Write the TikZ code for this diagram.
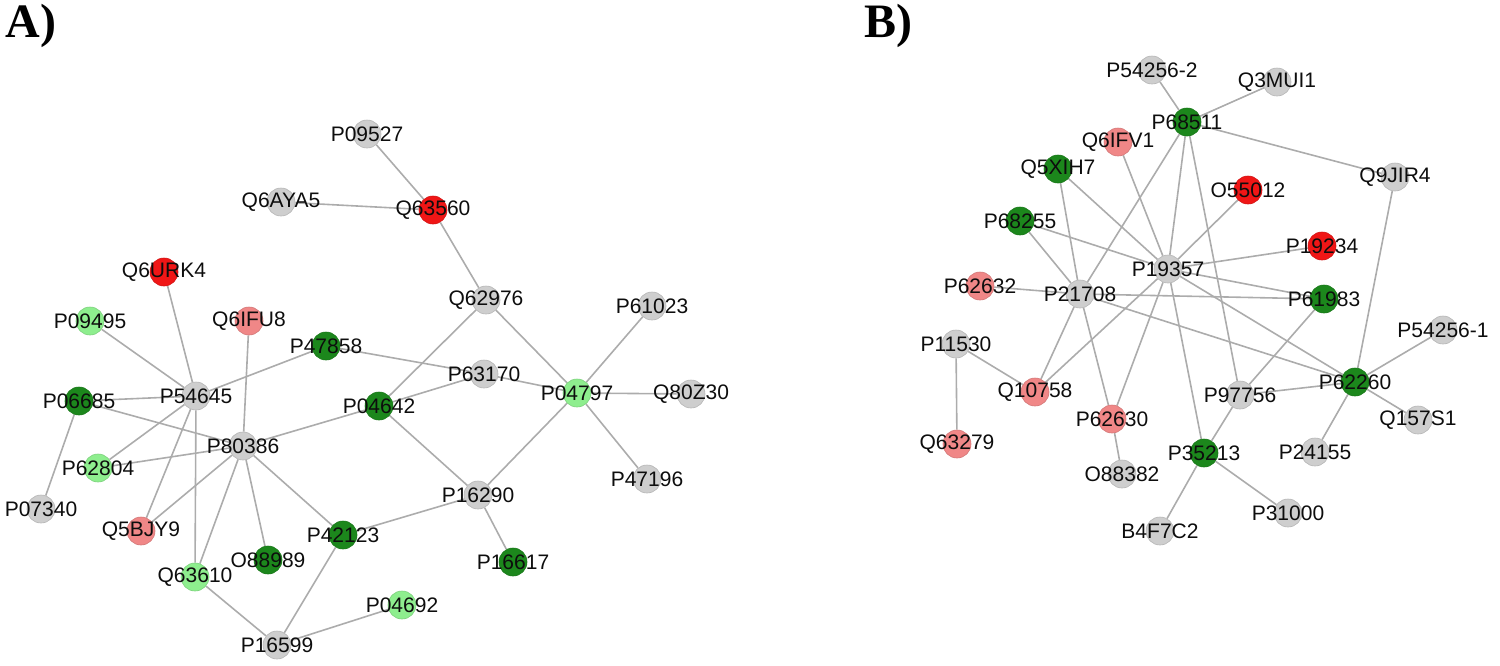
\documentclass[tikz,border=0pt]{standalone}
\usepackage{fontspec}
\setmainfont{Liberation Sans}
\newfontfamily\titlefont{Liberation Serif}
\usetikzlibrary{backgrounds}
\definecolor{ngray}{RGB}{206,206,206}
\definecolor{nred}{RGB}{240,22,22}
\definecolor{npink}{RGB}{240,135,135}
\definecolor{ndgreen}{RGB}{28,135,28}
\definecolor{nlgreen}{RGB}{142,238,142}
\definecolor{edgec}{RGB}{172,172,172}
\tikzset{
  prot/.style={circle, minimum size=14pt, inner sep=0pt, fill=#1, draw=#1!88!black, line width=0.3pt},
  plabel/.style={font=\fontsize{10.5}{12}\selectfont, text=black!95, inner sep=0pt},
  link/.style={draw=edgec, line width=0.8pt},
  paneltitle/.style={font=\titlefont\bfseries\fontsize{24}{28}\selectfont, inner sep=0pt}
}
\newcommand\prt[5]{\node[prot=#5, label={[plabel]center:#2}] (#1) at (#3,#4) {};}
\begin{document}
\begin{tikzpicture}[x=0.5pt,y=-0.5pt]
\useasboundingbox (0,0) rectangle (1500,665);
\node[paneltitle] (tA) at (31,26) {A)};
\node[paneltitle] (tB) at (888,26) {B)};
% Panel A nodes
\prt{P09527}{P09527}{367}{134}{ngray}
\prt{Q6AYA5}{Q6AYA5}{281}{202}{ngray}
\prt{Q63560}{Q63560}{433}{210}{nred}
\prt{Q62976}{Q62976}{486}{300}{ngray}
\prt{P61023}{P61023}{652}{306}{ngray}
\prt{Q6URK4}{Q6URK4}{164}{272}{nred}
\prt{P09495}{P09495}{90}{321}{nlgreen}
\prt{Q6IFU8}{Q6IFU8}{249}{321}{npink}
\prt{P47858}{P47858}{326}{346}{ndgreen}
\prt{P63170}{P63170}{484}{374}{ngray}
\prt{P04797}{P04797}{577}{393}{nlgreen}
\prt{Q80Z30}{Q80Z30}{691}{394}{ngray}
\prt{P54645}{P54645}{196}{396}{ngray}
\prt{P06685}{P06685}{79}{401}{ndgreen}
\prt{P04642}{P04642}{379}{406}{ndgreen}
\prt{P80386}{P80386}{243}{446}{ngray}
\prt{P62804}{P62804}{98}{468}{nlgreen}
\prt{P07340}{P07340}{41}{509}{ngray}
\prt{P47196}{P47196}{647}{479}{ngray}
\prt{P16290}{P16290}{478}{495}{ngray}
\prt{Q5BJY9}{Q5BJY9}{141}{531}{npink}
\prt{P42123}{P42123}{343}{535}{ndgreen}
\prt{O88989}{O88989}{268}{560}{ndgreen}
\prt{P16617}{P16617}{513}{562}{ndgreen}
\prt{Q63610}{Q63610}{195}{577}{nlgreen}
\prt{P04692}{P04692}{402}{605}{nlgreen}
\prt{P16599}{P16599}{277}{645}{ngray}
% Panel B nodes
\prt{P54256b}{P54256-2}{1152}{70}{ngray}
\prt{Q3MUI1}{Q3MUI1}{1277}{82}{ngray}
\prt{P68511}{P68511}{1187}{122}{ndgreen}
\prt{Q6IFV1}{Q6IFV1}{1118}{142}{npink}
\prt{Q5XIH7}{Q5XIH7}{1058}{169}{ndgreen}
\prt{O55012}{O55012}{1248}{190}{nred}
\prt{Q9JIR4}{Q9JIR4}{1395}{177}{ngray}
\prt{P68255}{P68255}{1020}{221}{ndgreen}
\prt{P19357}{P19357}{1168}{269}{ngray}
\prt{P19234}{P19234}{1322}{246}{nred}
\prt{P62632}{P62632}{980}{286}{npink}
\prt{P21708}{P21708}{1080}{294}{ngray}
\prt{P61983}{P61983}{1324}{299}{ndgreen}
\prt{P11530}{P11530}{956}{344}{ngray}
\prt{P54256a}{P54256-1}{1443}{330}{ngray}
\prt{Q10758}{Q10758}{1035}{392}{npink}
\prt{P62260}{P62260}{1355}{382}{ndgreen}
\prt{P97756}{P97756}{1240}{395}{ngray}
\prt{P62630}{P62630}{1112}{419}{npink}
\prt{Q157S1}{Q157S1}{1418}{420}{ngray}
\prt{Q63279}{Q63279}{957}{444}{npink}
\prt{P35213}{P35213}{1204}{453}{ndgreen}
\prt{P24155}{P24155}{1315}{452}{ngray}
\prt{O88382}{O88382}{1122}{474}{ngray}
\prt{P31000}{P31000}{1288}{513}{ngray}
\prt{B4F7C2}{B4F7C2}{1160}{531}{ngray}
\begin{pgfonlayer}{background}
% Panel A edges
\foreach \a/\b in {P09527/Q63560, Q6AYA5/Q63560, Q63560/Q62976, Q62976/P04797,
  Q62976/P04642, P61023/P04797, P47858/P63170, P63170/P04797, P63170/P04642,
  P04797/Q80Z30, P04797/P47196, P04797/P16290, P04642/P16290, P04642/P80386,
  P16290/P42123, P16290/P16617, P42123/P16599, P42123/P80386, P16599/Q63610,
  P16599/P04692, P80386/Q63610, P80386/O88989, P80386/Q5BJY9, P80386/P62804,
  P80386/P06685, P80386/Q6IFU8, P54645/P47858, P54645/Q6URK4, P54645/P09495,
  P54645/P06685, P54645/P62804, P54645/Q5BJY9, P54645/Q63610, P06685/P07340}
  \draw[link] (\a) -- (\b);
% Panel B edges
\foreach \a/\b in {P54256b/P68511, Q3MUI1/P68511, P68511/Q9JIR4, P68511/P21708,
  P68511/P19357, P68511/P97756, Q6IFV1/P19357, Q5XIH7/P19357, Q5XIH7/P21708,
  P68255/P19357, P68255/P21708, P62632/P21708, P21708/P61983, P21708/P62260,
  P21708/Q10758, P21708/P62630, P19357/Q10758, P19357/P62630, P19357/P35213,
  P19357/O55012, P19357/P19234, P19357/P61983, P19357/P62260, P61983/P97756,
  P97756/P62260, P97756/P35213, Q9JIR4/P62260, P62260/P54256a, P62260/Q157S1,
  P62260/P24155, P35213/P31000, P35213/B4F7C2, P62630/O88382, P11530/Q10758,
  P11530/Q63279}
  \draw[link] (\a) -- (\b);
\end{pgfonlayer}
\end{tikzpicture}
\end{document}
